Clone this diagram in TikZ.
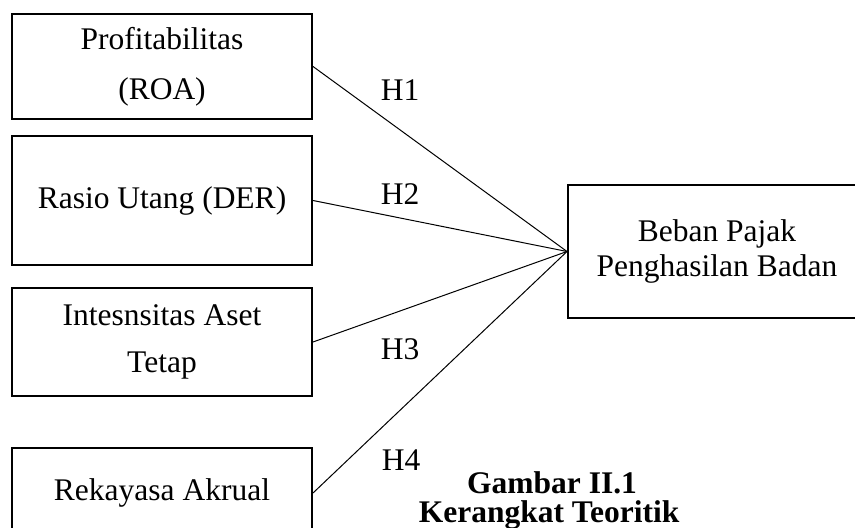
\documentclass[tikz,border=0pt]{standalone}
\usepackage{fontspec}
\setmainfont{Liberation Serif}
\usetikzlibrary{positioning}
\begin{document}
\begin{tikzpicture}[x=0.5pt,y=-0.5pt,
  kotak/.style={draw,line width=1pt,inner sep=0pt,minimum width=150pt,align=center,font=\fontsize{15.75}{17.5}\selectfont},
  hipo/.style={font=\fontsize{15.75}{17.5}\selectfont,inner sep=0pt},
  judul/.style={font=\fontsize{15.75}{14.5}\selectfont\bfseries,inner sep=0pt,anchor=base}]
\useasboundingbox (0,0) rectangle (855,528);
\node[kotak,minimum height=52.5pt,font=\fontsize{15.75}{25}\selectfont] (roa) at (162,66.5) {Profitabilitas\\(ROA)};
\node[kotak,minimum height=64.5pt] (der) at (162,200.5) {Rasio Utang (DER)};
\node[kotak,minimum height=54pt,font=\fontsize{15.75}{23.5}\selectfont] (aset) at (162,342) {Intesnsitas Aset\\Tetap};
\node[kotak,minimum height=45pt] (akrual) at (162,493) {Rekayasa Akrual};
\node[kotak,minimum width=149pt,minimum height=66.5pt] (pajak) at (717,251.5) {Beban Pajak\\Penghasilan Badan};
\draw[line width=0.5pt] (roa.east)--(pajak.west); \draw[line width=0.5pt] (der.east)--(pajak.west);
\draw[line width=0.5pt] (aset.east)--(pajak.west); \draw[line width=0.5pt] (akrual.east)--(pajak.west);
\node[hipo] (h1) at (400,90) {H1};
\node[hipo] (h2) at (400,194) {H2};
\node[hipo] (h3) at (400,349) {H3};
\node[hipo] (h4) at (401,460) {H4};
\node[judul] (gambar) at (552,493) {Gambar II.1};
\node[judul] (kerangka) at (549,522) {Kerangkat Teoritik};
\end{tikzpicture}
\end{document}
